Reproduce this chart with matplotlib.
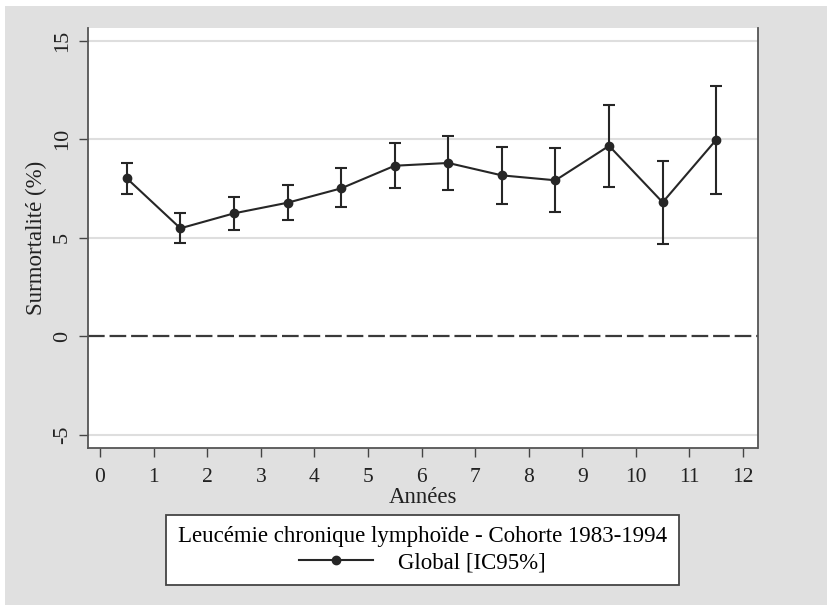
import matplotlib.pyplot as plt
from matplotlib.patches import Rectangle

# Excess mortality by year of follow-up, with 95% confidence limits
years = [0.5, 1.5, 2.5, 3.5, 4.5, 5.5, 6.5, 7.5, 8.5, 9.5, 10.5, 11.5]
excess = [8.02, 5.48, 6.24, 6.78, 7.51, 8.66, 8.80, 8.17, 7.92, 9.67, 6.80, 9.98]
ci_low = [7.22, 4.75, 5.41, 5.90, 6.54, 7.51, 7.42, 6.70, 6.29, 7.59, 4.70, 7.24]
ci_high = [8.81, 6.27, 7.05, 7.68, 8.53, 9.80, 10.15, 9.61, 9.56, 11.73, 8.91, 12.72]

x_ticks = list(range(0, 13))
y_ticks = [-5, 0, 5, 10, 15]

BG = "#e0e0e0"
INK = "#262626"
GRID = "#dedede"
FONT = "Liberation Serif"

plt.rcParams["font.family"] = FONT
plt.rcParams["axes.unicode_minus"] = False

fig = plt.figure(figsize=(8.28, 6.05), dpi=100, facecolor="white")
fig.patches.append(Rectangle((5 / 828, 0), 1, 1 - 6 / 605, transform=fig.transFigure,
                             facecolor=BG, edgecolor="none", zorder=-10))

ax = fig.add_axes([88 / 828, 1 - 447.5 / 605, (757.5 - 88) / 828, (447.5 - 28) / 605])
ax.set_facecolor("white")

for y in y_ticks:
    if y != 0:
        ax.axhline(y, color=GRID, lw=1.5, zorder=0)
ax.axhline(0, color="#3a3a3a", lw=1.6, dashes=(7.5, 2.2), zorder=1)

lower = [e - lo for e, lo in zip(excess, ci_low)]
upper = [hi - e for e, hi in zip(excess, ci_high)]
eb = ax.errorbar(years, excess, yerr=[lower, upper], color=INK, ecolor=INK, lw=1.5,
                 elinewidth=1.5, capsize=4.5, capthick=1.5, marker="o", markersize=6,
                 zorder=3)

ax.set_xlim(-0.224, 12.27)
ax.set_ylim(-5.66, 15.66)
ax.set_xticks(x_ticks)
ax.set_yticks(y_ticks)
ax.tick_params(axis="both", direction="out", length=6.5, width=1, color="#444444",
               labelsize=16, labelcolor="#222222")
ax.tick_params(axis="x", pad=8, labelsize=15.5)
ax.tick_params(axis="y", pad=5)
for lab in ax.get_yticklabels():
    lab.set_rotation(90)
    lab.set_va("center")

ax.spines["top"].set_visible(False)
for side in ("left", "bottom", "right"):
    ax.spines[side].set_color("#555555")
    ax.spines[side].set_linewidth(1.3)

ax.set_xlabel("Années", fontsize=16.5, color="#222222", labelpad=0)
ax.set_ylabel("Surmortalité (%)", fontsize=16.5, color="#222222", labelpad=4)

leg = ax.legend(handles=[eb[0]], labels=["Global [IC95%]"], loc="upper center",
                bbox_to_anchor=(422.5 / 828, 1 - 515 / 605), bbox_transform=fig.transFigure,
                title="Leucémie chronique lymphoïde - Cohorte 1983-1994",
                fontsize=16.5, title_fontsize=16.5, frameon=True, fancybox=False,
                handlelength=3.2, handletextpad=1.1, borderpad=0.5, labelspacing=0.2,
                borderaxespad=0)
leg.get_frame().set_edgecolor("#444444")
leg.get_frame().set_linewidth(1.3)
leg.get_frame().set_facecolor("white")
leg.get_frame().set_alpha(1)

fig.savefig("out.png", dpi=100, facecolor=fig.get_facecolor())
